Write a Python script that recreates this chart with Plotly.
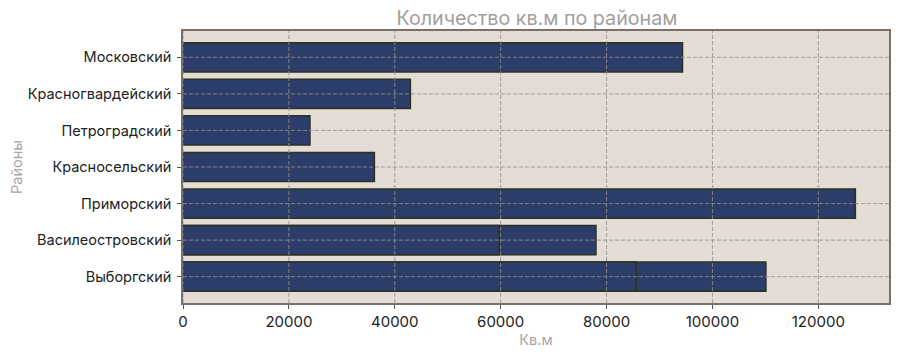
import plotly.graph_objects as go

districts = ["Выборгский", "Василеостровский", "Приморский", "Красносельский",
             "Петроградский", "Красногвардейский", "Московский"]
area_total = [110100, 78000, 127000, 36150, 23980, 42950, 94350]

# second overlapping records for some districts (drawn on top)
extra_districts = ["Василеостровский", "Выборгский"]
extra_area = [59700, 85600]

x_ticks = [0, 20000, 40000, 60000, 80000, 100000, 120000]

fill = "#2c3d69"
edge = "#2c3122"
grid = "rgba(150,142,136,0.85)"

fig = go.Figure()
fig.add_trace(go.Bar(y=districts, x=area_total, orientation="h", width=0.8,
                     marker=dict(color=fill, line=dict(color=edge, width=1.5)),
                     showlegend=False))
fig.add_trace(go.Bar(y=extra_districts, x=extra_area, orientation="h", width=0.8,
                     marker=dict(color=fill, line=dict(color=edge, width=1.5)),
                     showlegend=False))

shapes = []
for t in x_ticks:
    shapes.append(dict(type="line", xref="x", yref="paper", x0=t, x1=t, y0=0, y1=1,
                       layer="above", line=dict(color=grid, width=1, dash="4px,2px")))
for d in districts:
    shapes.append(dict(type="line", xref="paper", yref="y", x0=0, x1=1, y0=d, y1=d,
                       layer="above", line=dict(color=grid, width=1, dash="4px,2px")))

font_family = "Inter, Lato, sans-serif"

fig.update_layout(
    width=900, height=354,
    margin=dict(l=183, r=9, t=31, b=50),
    barmode="overlay",
    paper_bgcolor="white",
    plot_bgcolor="#e4ddd6",
    font=dict(family=font_family, size=14, color="#222222"),
    title=dict(text="Количество кв.м по районам", x=(183 + 891) / 2 / 900, xanchor="center",
               y=0.95, yanchor="middle",
               font=dict(size=19.7, color="#a29e9b", family=font_family)),
    shapes=shapes,
    bargap=0.2,
)
fig.update_xaxes(range=[0, 133350], tickvals=x_ticks, ticktext=[str(t) for t in x_ticks],
                 showgrid=False, zeroline=False,
                 ticks="outside", ticklen=4, tickcolor="#555",
                 showline=True, linecolor="#7a706a", linewidth=1.5, mirror=True,
                 title=dict(text="Кв.м", font=dict(size=14.5, color="#aaa6a3"), standoff=4),
                 tickfont=dict(size=15, color="#222"))
fig.update_yaxes(type="category", categoryorder="array", categoryarray=districts,
                 range=[-0.72, 6.72], showgrid=False, zeroline=False,
                 ticks="outside", ticklen=4, tickcolor="#555",
                 showline=True, linecolor="#7a706a", linewidth=1.5, mirror=True,
                 ticklabelstandoff=3,
                 title=dict(text="Районы", font=dict(size=14.5, color="#aaa6a3"), standoff=2),
                 tickfont=dict(size=14.5, color="#222"))

fig.write_html("out.html")
